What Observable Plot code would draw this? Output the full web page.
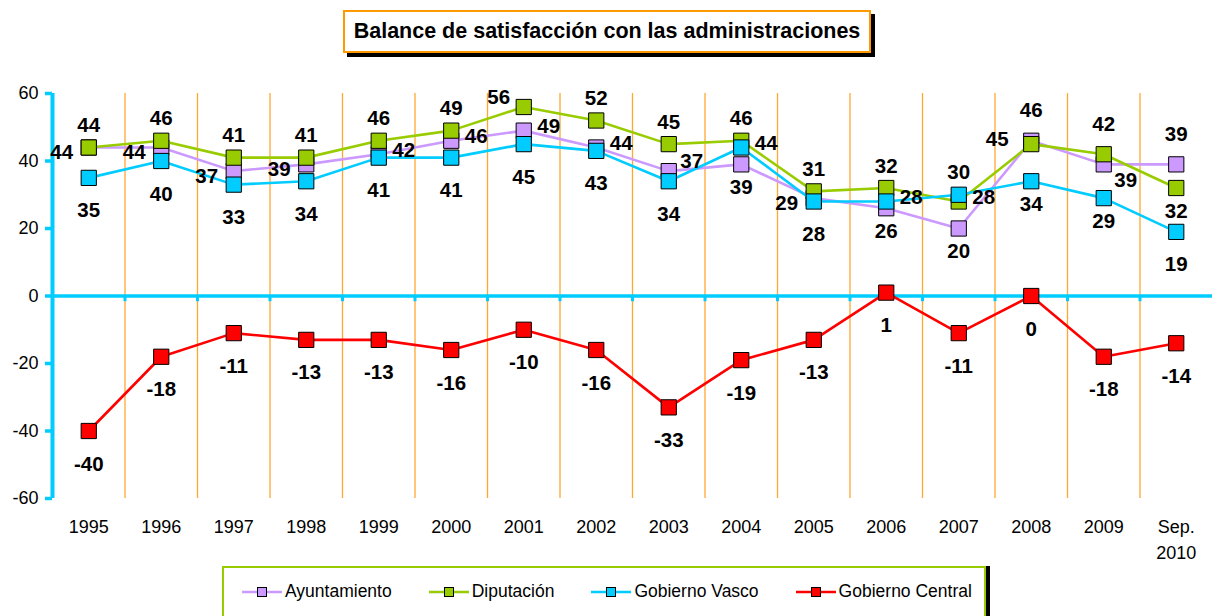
<!DOCTYPE html>
<html>
<head>
<meta charset="utf-8">
<script src="https://cdn.jsdelivr.net/npm/d3@7"></script>
<script src="https://cdn.jsdelivr.net/npm/@observablehq/plot@0.6"></script>
<style>
  html, body { margin: 0; padding: 0; background: #fff; }
  #wrap { position: relative; width: 1212px; height: 616px; overflow: hidden; font-family: "Liberation Sans", Arial, sans-serif; }
  #title { position: absolute; left: 343px; top: 10px; width: 524px; height: 39px; border: 2px solid #ff9900; box-shadow: 4px 4px 0 #000; background: #fff;
           font-weight: bold; font-size: 21.5px; display: flex; align-items: center; justify-content: center; color: #000; z-index: 2; white-space: nowrap; }
  #legend { position: absolute; left: 222px; top: 566px; width: 764px; height: 60px; border: 2px solid #99cc00; box-shadow: 4px 0 0 #000; background: #fff;
            display: flex; flex-wrap: nowrap; align-items: flex-start; padding-left: 18px; box-sizing: border-box; z-index: 2; }
  .item { display: flex; align-items: center; flex-shrink: 0; white-space: nowrap; margin-right: 37px; margin-top: 13px; font-size: 17.5px; color: #000; }
  .item svg { margin-right: 3px; flex-shrink: 0; }
  #chart { position: absolute; left: 0; top: 0; }
</style>
</head>
<body>
<div id="wrap">
  <div id="title">Balance de satisfacción con las administraciones</div>
  <div id="chart"></div>
  <div id="legend"></div>
</div>
<script>
// ---- Data ----
const years = ["1995","1996","1997","1998","1999","2000","2001","2002","2003","2004","2005","2006","2007","2008","2009","Sep.\n2010"];
const seriesNames = ["Ayuntamiento", "Diputación", "Gobierno Vasco", "Gobierno Central"];
const ayuntamiento   = [44, 44, 37, 39, 42, 46, 49, 44, 37, 39, 29, 26, 20, 46, 39, 39];
const diputacion     = [44, 46, 41, 41, 46, 49, 56, 52, 45, 46, 31, 32, 28, 45, 42, 32];
const gobiernoVasco  = [35, 40, 33, 34, 41, 41, 45, 43, 34, 44, 28, 28, 30, 34, 29, 19];
const gobiernoCentral= [-40, -18, -11, -13, -13, -16, -10, -16, -33, -19, -13, 1, -11, 0, -18, -14];
const yTicks = [-60, -40, -20, 0, 20, 40, 60];

// ---- Styling (label placement, colours) ----
const colors = ["#cc99ff", "#99cc00", "#00ccff", "#ff0000"];
const placeAyto = ["l","l","l","l","r","r","r","r","tr","bs","l","bs","bs","tt","br","tt"];
const placeDip  = ["t","t","t","t","t","t","tl","t","t","t","t","t","r","lu","tt","bs"];
const placeGV   = ["b","b","b","b","b","b","b","b","b","r","b","r","t","bs","bs","b"];
const placeGC   = Array(16).fill("b");
const offsets = {
  t:  [0, -22], tt: [0, -30], b: [0, 33], bs: [0, 23], l: [-27, 5], r: [25, -4],
  tr: [23, -10], br: [22, 16], tl: [-25, -10], lu: [-34, -5]
};

const valuesList = [ayuntamiento, diputacion, gobiernoVasco, gobiernoCentral];
const placeList = [placeAyto, placeDip, placeGV, placeGC];

const rows = [];
seriesNames.forEach((name, s) => {
  valuesList[s].forEach((v, i) => rows.push({series: name, s, i, value: v, place: placeList[s][i]}));
});

const boundaries = d3.range(1, years.length).map(i => i - 0.5);
const cyan = "#00ccff";

const marks = [
  Plot.ruleX(boundaries, {x: d => d, y1: -60, y2: 60, stroke: "#ffa733", strokeWidth: 1.3}),
  Plot.ruleY([0], {stroke: cyan, strokeWidth: 3.5}),
  Plot.ruleX(boundaries, {x: d => d, y1: 0, y2: -1.7, stroke: cyan, strokeWidth: 3}),
  Plot.ruleX([-0.5], {y1: -60, y2: 60, stroke: cyan, strokeWidth: 4}),
  Plot.axisY({ticks: yTicks, tickFormat: d => String(d), tickSize: 7, tickPadding: 7, stroke: cyan, strokeWidth: 3.5, fill: "#000", fontSize: 18, label: null}),
  Plot.axisX({ticks: d3.range(years.length), tickFormat: i => years[i], tickSize: 0, tickPadding: 17, fontSize: 18, lineHeight: 1.4, fill: "#000", label: null})
];

seriesNames.forEach((name, s) => {
  const data = rows.filter(d => d.s === s);
  marks.push(Plot.line(data, {x: "i", y: "value", stroke: colors[s], strokeWidth: 2.6}));
  marks.push(Plot.dot(data, {x: "i", y: "value", symbol: "square", r: 8.6, fill: colors[s], stroke: "#000", strokeWidth: 1}));
});

Object.entries(offsets).forEach(([code, [dx, dy]]) => {
  marks.push(Plot.text(rows.filter(d => d.place === code), {
    x: "i", y: "value", text: d => String(d.value), dx, dy,
    fontWeight: "bold", fontSize: 20.5, fill: "#000", textAnchor: "middle", lineAnchor: "middle"
  }));
});

const chart = Plot.plot({
  width: 1212,
  height: 560,
  marginTop: 93,
  marginBottom: 62,
  marginLeft: 52,
  marginRight: 0,
  x: {type: "linear", domain: [-0.5, years.length - 0.5]},
  y: {domain: [-60, 60]},
  style: {fontFamily: "'Liberation Sans', Arial, sans-serif", fontSize: "18px", background: "#fff", overflow: "visible"},
  marks
});
document.getElementById("chart").appendChild(chart);

// ---- Legend ----
const legend = document.getElementById("legend");
seriesNames.forEach((name, s) => {
  const item = document.createElement("div");
  item.className = "item";
  item.innerHTML = `<svg width="40" height="14" viewBox="0 0 40 14"><line x1="0" y1="7" x2="40" y2="7" stroke="${colors[s]}" stroke-width="2.5"/><rect x="15.5" y="2.5" width="9" height="9" fill="${colors[s]}" stroke="#000" stroke-width="1"/></svg><span>${name}</span>`;
  legend.appendChild(item);
});
</script>
</body>
</html>
